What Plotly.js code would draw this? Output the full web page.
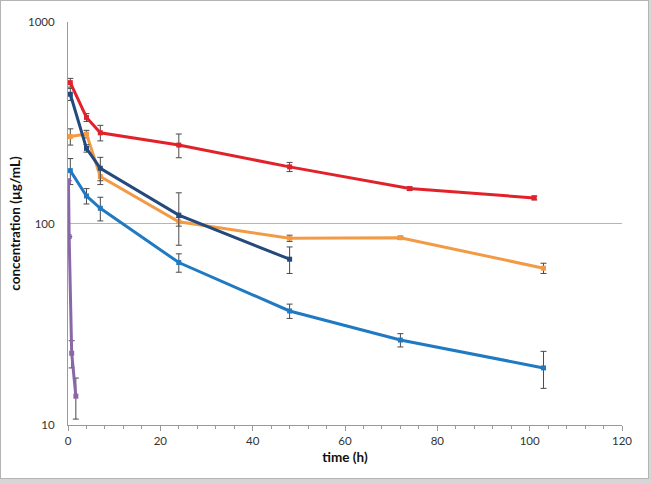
<!DOCTYPE html>
<html>
<head>
<meta charset="utf-8">
<script src="https://cdn.plot.ly/plotly-3.0.1.min.js"></script>
<style>
  html, body { margin: 0; padding: 0; background: #d6d6d6; }
  #chart { position: absolute; left: 0; top: 0; width: 647px; height: 477px; border: 1px solid #b4b4b4; background: #fff; }
</style>
</head>
<body>
<div id="chart"></div>
<script>
// ---- data ----
const redX = [0.5, 4, 7, 24, 48, 74, 101];
const redY = [500, 336, 282, 245, 191, 149, 134];
const redErr = [25, 15, 25, 33, 10, 3, 3];

const navyX = [0.5, 4, 7, 24, 48];
const navyY = [438, 236, 188, 110, 66.5];
const navyErr = [30, 10, 25, 32, 10];

const orangeX = [0.5, 4, 7, 24, 48, 72, 103];
const orangeY = [270, 278, 171, 102, 84.5, 85, 60];
const orangeErr = [25, 12, 15, 5, 3, 1.5, 3.5];

const blueX = [0.5, 4, 7, 24, 48, 72, 103];
const blueY = [183, 137, 119, 64, 36.8, 26.4, 19.2];
const blueErr = [27, 12, 16, 6.7, 3, 2, 4];

const purpleX = [0.1, 0.25, 0.8, 1.7];
const purpleY = [163, 86, 22.7, 13.9];
const purpleErr = [0, 0, 3.5, 3.2];

const xTitle = 'time (h)';
const yTitle = 'concentration (µg/mL)';

function series(x, y, err, color) {
  return {
    x: x, y: y, type: 'scatter', mode: 'lines+markers',
    line: { color: color, width: 3 },
    marker: { symbol: 'square', size: 5, color: color },
    error_y: { type: 'data', array: err, visible: true, color: '#4a4a4a', thickness: 1, width: 3 },
    showlegend: false, hoverinfo: 'skip'
  };
}

const data = [
  series(blueX, blueY, blueErr, '#1f7ac3'),
  series(orangeX, orangeY, orangeErr, '#f29a45'),
  series(navyX, navyY, navyErr, '#234a7c'),
  series(redX, redY, redErr, '#e2222b'),
  series(purpleX, purpleY, purpleErr, '#8a68a8')
];

const tickFont = { family: 'Lato, "Liberation Sans", sans-serif', size: 11.5, color: '#333' };
const titleFont = { family: 'Lato, "Liberation Sans", sans-serif', size: 13.5, color: '#111', weight: 'bold' };

const layout = {
  width: 647, height: 477,
  margin: { l: 67, r: 26, t: 21, b: 53 },
  paper_bgcolor: '#fff', plot_bgcolor: '#fff',
  xaxis: {
    range: [0, 120], dtick: 20, tick0: 0,
    showgrid: false, zeroline: false,
    showline: true, linecolor: '#9a9a9a', linewidth: 1,
    ticks: 'outside', ticklen: 5, tickcolor: '#9a9a9a',
    minor: { dtick: 4, ticks: 'outside', ticklen: 3, tickcolor: '#9a9a9a' },
    tickfont: tickFont,
    title: { text: '<b>' + xTitle + '</b>', font: titleFont, standoff: 6 }
  },
  yaxis: {
    type: 'log', range: [1, 3], dtick: 1,
    showgrid: true, gridcolor: '#b5b5b5', gridwidth: 1,
    zeroline: false,
    showline: true, linecolor: '#9a9a9a', linewidth: 1,
    ticks: '', ticklabelstandoff: 10,
    tickfont: tickFont,
    title: { text: '<b>' + yTitle + '</b>', font: titleFont, standoff: 4 }
  }
};

Plotly.newPlot('chart', data, layout, { staticPlot: true, displayModeBar: false });
</script>
</body>
</html>
